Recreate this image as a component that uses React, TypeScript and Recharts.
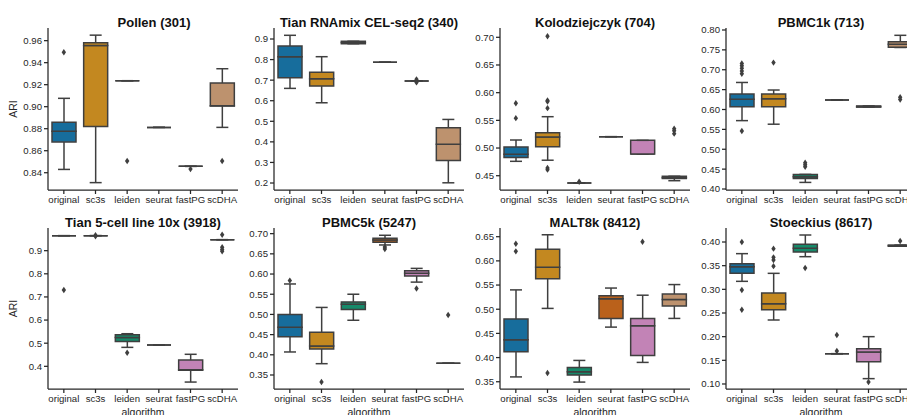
import React from 'react'
import { ComposedChart, Bar, Line, XAxis, YAxis } from 'recharts'

// box = [lower whisker, q1, median, q3, upper whisker, fliers]
type Box = [number, number, number, number, number, number[]]

const ALGORITHMS = ['original', 'sc3s', 'leiden', 'seurat', 'fastPG', 'scDHA']
const COLORS = ['#176d9c', '#c38820', '#168a6a', '#ba611b', '#c283b6', '#bd926e']
const LINE = '#3f3f3f'
const AXIS = '#262626'
const FONT = '"Liberation Sans", Arial, sans-serif'

const pollen: Box[] = [
  [0.843, 0.868, 0.8776, 0.8858, 0.9076, [0.9494]],
  [0.831, 0.882, 0.9555, 0.958, 0.965, []],
  [0.9236, 0.9236, 0.9236, 0.9236, 0.9236, [0.8506]],
  [0.8812, 0.8812, 0.8812, 0.8812, 0.8812, []],
  [0.8458, 0.8458, 0.8458, 0.8458, 0.8458, [0.8433]],
  [0.8812, 0.9006, 0.9008, 0.9215, 0.9345, [0.8506]],
]
const tianRnamix: Box[] = [
  [0.66, 0.712, 0.814, 0.866, 0.918, []],
  [0.59, 0.671, 0.707, 0.738, 0.814, []],
  [0.877, 0.877, 0.883, 0.889, 0.889, []],
  [0.787, 0.787, 0.787, 0.787, 0.787, []],
  [0.696, 0.696, 0.696, 0.696, 0.696, [0.704, 0.689]],
  [0.201, 0.31, 0.388, 0.469, 0.509, []],
]
const kolodziejczyk: Box[] = [
  [0.476, 0.483, 0.4886, 0.502, 0.5145, [0.581, 0.554]],
  [0.478, 0.5024, 0.52, 0.5277, 0.5566, [0.702, 0.586, 0.584, 0.572, 0.464, 0.461]],
  [0.437, 0.437, 0.437, 0.437, 0.437, [0.439]],
  [0.5205, 0.5205, 0.5205, 0.5205, 0.5205, []],
  [0.4892, 0.4892, 0.4892, 0.5139, 0.5139, []],
  [0.441, 0.445, 0.4465, 0.449, 0.449, [0.535, 0.531, 0.526]],
]
const pbmc1k: Box[] = [
  [0.572, 0.607, 0.6255, 0.639, 0.668, [0.716, 0.71, 0.704, 0.697, 0.69, 0.546]],
  [0.563, 0.607, 0.627, 0.639, 0.649, [0.718]],
  [0.4166, 0.4267, 0.431, 0.4367, 0.4367, [0.466, 0.461, 0.456]],
  [0.624, 0.624, 0.624, 0.624, 0.624, []],
  [0.606, 0.606, 0.607, 0.609, 0.609, []],
  [0.756, 0.7564, 0.764, 0.7706, 0.7866, [0.631, 0.625]],
]
const tian5cell: Box[] = [
  [0.9648, 0.9648, 0.9648, 0.9648, 0.9648, [0.73]],
  [0.965, 0.965, 0.965, 0.965, 0.965, [0.967, 0.962]],
  [0.482, 0.507, 0.525, 0.537, 0.541, [0.459]],
  [0.492, 0.492, 0.492, 0.492, 0.492, []],
  [0.332, 0.383, 0.385, 0.427, 0.452, []],
  [0.9475, 0.9475, 0.9475, 0.9475, 0.9475, [0.969, 0.915, 0.905, 0.897]],
]
const pbmc5k: Box[] = [
  [0.407, 0.445, 0.468, 0.4995, 0.5754, [0.5837]],
  [0.378, 0.4145, 0.422, 0.4558, 0.5173, [0.3328]],
  [0.4855, 0.512, 0.525, 0.531, 0.55, []],
  [0.672, 0.679, 0.684, 0.6884, 0.696, [0.667, 0.662]],
  [0.58, 0.5952, 0.6018, 0.6084, 0.614, [0.564]],
  [0.379, 0.379, 0.379, 0.379, 0.379, [0.4987]],
]
const malt8k: Box[] = [
  [0.36, 0.412, 0.437, 0.48, 0.54, [0.6355, 0.6197]],
  [0.5017, 0.563, 0.5866, 0.624, 0.654, [0.368]],
  [0.3493, 0.3638, 0.3707, 0.3797, 0.3941, []],
  [0.463, 0.481, 0.5217, 0.528, 0.5438, []],
  [0.39, 0.4045, 0.466, 0.481, 0.529, [0.6397]],
  [0.481, 0.5066, 0.5203, 0.5314, 0.551, []],
]
const stoeckius: Box[] = [
  [0.3169, 0.3338, 0.3479, 0.3542, 0.3754, [0.4, 0.2986, 0.257]],
  [0.2352, 0.257, 0.2697, 0.2923, 0.3338, [0.386, 0.3676, 0.362, 0.349]],
  [0.369, 0.3789, 0.3866, 0.395, 0.4148, [0.345]],
  [0.164, 0.164, 0.164, 0.164, 0.164, [0.2035, 0.1697]],
  [0.1113, 0.147, 0.1676, 0.1746, 0.2, [0.1042]],
  [0.391, 0.391, 0.3923, 0.3935, 0.3935, [0.402]],
]

const pollenTicks = [0.84, 0.86, 0.88, 0.9, 0.92, 0.94, 0.96]
const tianRnamixTicks = [0.2, 0.3, 0.4, 0.5, 0.6, 0.7, 0.8, 0.9]
const kolodziejczykTicks = [0.45, 0.5, 0.55, 0.6, 0.65, 0.7]
const pbmc1kTicks = [0.4, 0.45, 0.5, 0.55, 0.6, 0.65, 0.7, 0.75, 0.8]
const tian5cellTicks = [0.4, 0.5, 0.6, 0.7, 0.8, 0.9]
const pbmc5kTicks = [0.35, 0.4, 0.45, 0.5, 0.55, 0.6, 0.65, 0.7]
const malt8kTicks = [0.35, 0.4, 0.45, 0.5, 0.55, 0.6, 0.65]
const stoeckiusTicks = [0.1, 0.15, 0.2, 0.25, 0.3, 0.35, 0.4]

const PANELS = [
  { title: 'Pollen (301)', boxes: pollen, ticks: pollenTicks, domain: [0.8243, 0.9715], dec: 2, titleDx: 11 },
  { title: 'Tian RNAmix CEL-seq2 (340)', boxes: tianRnamix, ticks: tianRnamixTicks, domain: [0.166, 0.9535], dec: 1, titleDx: 0 },
  { title: 'Kolodziejczyk (704)', boxes: kolodziejczyk, ticks: kolodziejczykTicks, domain: [0.4242, 0.7168], dec: 2, titleDx: 0 },
  { title: 'PBMC1k (713)', boxes: pbmc1k, ticks: pbmc1kTicks, domain: [0.3975, 0.805], dec: 2, titleDx: 0 },
  { title: 'Tian 5-cell line 10x (3918)', boxes: tian5cell, ticks: tian5cellTicks, domain: [0.302, 0.998], dec: 1, titleDx: 0 },
  { title: 'PBMC5k (5247)', boxes: pbmc5k, ticks: pbmc5kTicks, domain: [0.3153, 0.714], dec: 2, titleDx: 0 },
  { title: 'MALT8k (8412)', boxes: malt8k, ticks: malt8kTicks, domain: [0.335, 0.668], dec: 2, titleDx: 0 },
  { title: 'Stoeckius (8617)', boxes: stoeckius, ticks: stoeckiusTicks, domain: [0.0894, 0.4296], dec: 2, titleDx: 0 },
]

const COL_LEFT = [48, 274, 500, 726]
const ROW_TOP = [28, 228]
const ROW_H = [162, 161]
const PLOT_W = 190
const Y_W = 48
const M_TOP = 4
const MAX_FLIERS = 6

function buildRows(boxes: Box[]) {
  return boxes.map(([lo, q1, med, q3, hi, fl], i) => {
    const row: Record<string, any> = {
      name: ALGORITHMS[i],
      base: lo,
      wLo: q1 - lo,
      bLo: med - q1,
      bHi: q3 - med,
      wHi: hi - q3,
    }
    for (let k = 0; k < MAX_FLIERS; k++) row[`o${k}`] = fl[k] ?? null
    return row
  })
}

const noShape = () => <g />

// drawn as a path so that a flat (zero-height) box still shows as a line
const boxShape = (p: any) => {
  const top = Math.min(p.y, p.y + p.height)
  const bottom = Math.max(p.y, p.y + p.height)
  const l = p.x
  const r = p.x + p.width
  return (
    <path d={`M${l},${top}L${r},${top}L${r},${bottom}L${l},${bottom}Z`}
      fill={COLORS[p.index]} stroke={LINE} strokeWidth={1.5} />
  )
}

const whisker = (capAtLow: boolean) => (p: any) => {
  const top = Math.min(p.y, p.y + p.height)
  const bottom = Math.max(p.y, p.y + p.height)
  const cx = p.x + p.width / 2
  const cap = capAtLow ? bottom : top
  const cw = p.width / 4
  return (
    <g>
      <line x1={cx} x2={cx} y1={top} y2={bottom} stroke={LINE} strokeWidth={1.5} />
      <line x1={cx - cw} x2={cx + cw} y1={cap} y2={cap} stroke={LINE} strokeWidth={1.5} />
    </g>
  )
}

const flier = (p: any) => {
  if (p.value == null || p.cy == null || isNaN(p.cy)) return <g key={p.index} />
  const { cx, cy } = p
  return (
    <path key={p.index} d={`M${cx},${cy - 3.2}L${cx + 2.2},${cy}L${cx},${cy + 3.2}L${cx - 2.2},${cy}Z`} fill={LINE} />
  )
}

function Panel({ idx }: { idx: number }) {
  const cfg = PANELS[idx]
  const col = idx % 4
  const row = Math.floor(idx / 4)
  const plotH = ROW_H[row]
  const data = buildRows(cfg.boxes)
  const left = COL_LEFT[col] - Y_W
  const top = ROW_TOP[row] - M_TOP
  const tickStyle = { fontSize: 9.6, fill: AXIS }
  return (
    <>
      <div style={{
        position: 'absolute', left: COL_LEFT[col] + cfg.titleDx - 40, width: PLOT_W + 80, top: ROW_TOP[row] - 12,
        textAlign: 'center', fontWeight: 'bold', fontSize: 13, lineHeight: '14px', color: '#111', whiteSpace: 'nowrap',
      }}>{cfg.title}</div>
      <div style={{ position: 'absolute', left, top }}>
        <ComposedChart width={Y_W + PLOT_W + 4} height={M_TOP + plotH + 40} data={data}
          margin={{ top: M_TOP, right: 4, bottom: 0, left: 0 }} barSize={24}>
          <XAxis dataKey="name" type="category" interval={0} height={40} tick={tickStyle}
            tickSize={4} tickLine={{ stroke: AXIS, strokeWidth: 1.25 }} axisLine={{ stroke: AXIS, strokeWidth: 1.25 }}
            label={row === 1 ? { value: 'algorithm', position: 'insideTop', offset: 20, style: { fontSize: 10.5, fill: AXIS } } : undefined} />
          <YAxis type="number" width={Y_W} domain={cfg.domain} ticks={cfg.ticks} allowDataOverflow interval={0}
            tickFormatter={(v: number) => v.toFixed(cfg.dec)} tick={tickStyle} tickSize={4}
            tickLine={{ stroke: AXIS, strokeWidth: 1.25 }} axisLine={{ stroke: AXIS, strokeWidth: 1.25 }}
            label={col === 0 ? { value: 'ARI', angle: -90, position: 'insideLeft', offset: 13, style: { fontSize: 10.5, fill: AXIS, textAnchor: 'middle' } } : undefined} />
          <Bar dataKey="base" stackId="b" shape={noShape} isAnimationActive={false} />
          <Bar dataKey="wLo" stackId="b" shape={whisker(true)} isAnimationActive={false} />
          <Bar dataKey="bLo" stackId="b" shape={boxShape} isAnimationActive={false} />
          <Bar dataKey="bHi" stackId="b" shape={boxShape} isAnimationActive={false} />
          <Bar dataKey="wHi" stackId="b" shape={whisker(false)} isAnimationActive={false} />
          {Array.from({ length: MAX_FLIERS }, (_, k) => (
            <Line key={k} dataKey={`o${k}`} stroke="none" dot={flier} activeDot={false}
              isAnimationActive={false} legendType="none" />
          ))}
        </ComposedChart>
      </div>
    </>
  )
}

export default function App() {
  return (
    <div style={{
      position: 'absolute', left: 0, top: 0, width: 907, height: 415, overflow: 'hidden',
      background: '#fff', fontFamily: FONT,
    }}>
      {PANELS.map((_, i) => <Panel key={i} idx={i} />)}
    </div>
  )
}
